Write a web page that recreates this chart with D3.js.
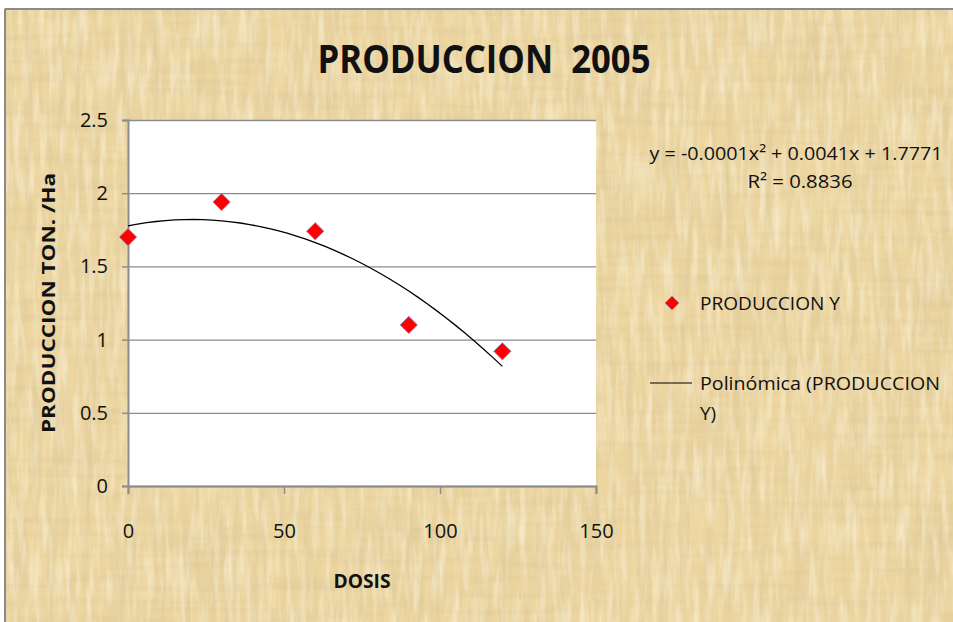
<!DOCTYPE html>
<html>
<head>
<meta charset="utf-8">
<script src="https://cdn.jsdelivr.net/npm/d3@7"></script>
<style>
  body { margin: 0; background: #fff; }
  text { font-family: "Open Sans", "DejaVu Sans", sans-serif; fill: #111; }
</style>
</head>
<body>
<div id="chart"></div>
<script>
// Values
var dosis = [0, 30, 60, 90, 120];
var produccion = [1.70, 1.94, 1.74, 1.10, 0.92];
var xTicks = [0, 50, 100, 150];
var yTicks = [0, 0.5, 1, 1.5, 2, 2.5];
var titleText = "PRODUCCION\u00a0 2005";
var xTitle = "DOSIS";
var yTitle = "PRODUCCION TON. /Ha";
var equationText = "y = -0.0001x\u00b2 + 0.0041x + 1.7771";
var r2Text = "R\u00b2 = 0.8836";
var legendSeries = "PRODUCCION Y";
var legendTrend = ["Polin\u00f3mica (PRODUCCION", "Y)"];

var svgWidth = 953;
var svgHeight = 622;
var margin = { top: 120, right: 357, bottom: 136, left: 128 };
var width = svgWidth - margin.left - margin.right;   // 468
var height = svgHeight - margin.top - margin.bottom; // 366

var svg = d3.select("#chart")
  .append("svg")
  .attr("width", svgWidth)
  .attr("height", svgHeight);

// papyrus-like background: soft vertical + horizontal fibres
var defs = svg.append("defs");
function fibres(id, freq, seed, rgb, a, b) {
  var f = defs.append("filter").attr("id", id)
    .attr("x", 0).attr("y", 0).attr("width", "100%").attr("height", "100%");
  f.append("feTurbulence").attr("type", "fractalNoise")
    .attr("baseFrequency", freq).attr("numOctaves", 3).attr("seed", seed).attr("result", "n");
  f.append("feColorMatrix").attr("in", "n").attr("type", "matrix")
    .attr("values", `0 0 0 0 ${rgb[0]}  0 0 0 0 ${rgb[1]}  0 0 0 0 ${rgb[2]}  ${a} 0 0 0 ${b}`);
}
fibres("fibV", "0.12 0.008", 4, [0.72, 0.58, 0.32], 1.4, -0.55);
fibres("fibH", "0.008 0.12", 11, [0.72, 0.58, 0.32], 1.3, -0.55);
fibres("fibL", "0.15 0.02", 21, [0.98, 0.92, 0.76], 1.3, -0.55);

var bgX = 4, bgY = 8;
svg.append("rect").attr("x", bgX).attr("y", bgY).attr("width", svgWidth - bgX).attr("height", svgHeight - bgY)
  .attr("fill", "#edd6a0");
["fibV", "fibH", "fibL"].forEach(function(id) {
  svg.append("rect").attr("x", bgX).attr("y", bgY).attr("width", svgWidth - bgX).attr("height", svgHeight - bgY)
    .attr("fill", "#000").attr("filter", `url(#${id})`);
});
// outer frame (top and left edges)
svg.append("line").attr("x1", 5).attr("x2", svgWidth).attr("y1", 9).attr("y2", 9)
  .attr("stroke", "#8a8a8a").attr("stroke-width", 2);
svg.append("line").attr("x1", 5).attr("x2", 5).attr("y1", 9).attr("y2", svgHeight)
  .attr("stroke", "#8a8a8a").attr("stroke-width", 2);

var chartGroup = svg.append("g")
  .attr("transform", `translate(${margin.left}, ${margin.top})`);

var xLinearScale = d3.scaleLinear().domain([0, 150]).range([0, width]);
var yLinearScale = d3.scaleLinear().domain([0, 2.5]).range([height, 0]);

// plot area
chartGroup.append("rect").attr("width", width).attr("height", height).attr("fill", "#fff");

// gridlines
var grid = chartGroup.append("g")
  .call(d3.axisLeft(yLinearScale).tickValues(yTicks).tickSize(-width).tickFormat(""));
grid.select(".domain").remove();
grid.selectAll("line").attr("stroke", "#8c8c8c").attr("stroke-width", 1.3);

// axes
var bottomAxis = d3.axisBottom(xLinearScale).tickValues(xTicks).tickSize(8).tickPadding(30)
  .tickFormat(d3.format(""));
var leftAxis = d3.axisLeft(yLinearScale).tickValues(yTicks).tickSize(6).tickPadding(14)
  .tickFormat(d3.format(""));

var xg = chartGroup.append("g").attr("transform", `translate(0, ${height})`).call(bottomAxis);
var yg = chartGroup.append("g").call(leftAxis);
[xg, yg].forEach(function(g) {
  g.select(".domain").attr("stroke", "#8c8c8c").attr("stroke-width", 2);
  g.selectAll(".tick line").attr("stroke", "#8c8c8c").attr("stroke-width", 1.5);
  g.selectAll(".tick text").attr("font-size", "20px").attr("fill", "#1a1a1a")
    .style("font-family", "'Open Sans', sans-serif");
});

// polynomial (2nd order) least squares trendline from the data
function quadFit(xs, ys) {
  var s = [0, 0, 0, 0, 0], t = [0, 0, 0];
  xs.forEach(function(x, i) {
    for (var k = 0; k < 5; k++) s[k] += Math.pow(x, k);
    for (var k2 = 0; k2 < 3; k2++) t[k2] += Math.pow(x, k2) * ys[i];
  });
  var A = [[s[0], s[1], s[2], t[0]], [s[1], s[2], s[3], t[1]], [s[2], s[3], s[4], t[2]]];
  for (var i = 0; i < 3; i++) {
    for (var j = i + 1; j < 3; j++) {
      var r = A[j][i] / A[i][i];
      for (var c = i; c < 4; c++) A[j][c] -= r * A[i][c];
    }
  }
  var b = [0, 0, 0];
  for (var i2 = 2; i2 >= 0; i2--) {
    var v = A[i2][3];
    for (var c2 = i2 + 1; c2 < 3; c2++) v -= A[i2][c2] * b[c2];
    b[i2] = v / A[i2][i2];
  }
  return function(x) { return b[0] + b[1] * x + b[2] * x * x; };
}
var trend = quadFit(dosis, produccion);
var trendX = d3.range(d3.min(dosis), d3.max(dosis) + 0.001, 3);

chartGroup.append("path")
  .datum(trendX)
  .attr("fill", "none")
  .attr("stroke", "#000")
  .attr("stroke-width", 1.3)
  .attr("d", d3.line().x(d => xLinearScale(d)).y(d => yLinearScale(trend(d))));

// markers
var diamond = d3.symbol().type(d3.symbolSquare).size(150);
chartGroup.selectAll(".dot")
  .data(dosis)
  .enter()
  .append("path")
  .attr("class", "dot")
  .attr("d", diamond)
  .attr("transform", (d, i) => `translate(${xLinearScale(d)}, ${yLinearScale(produccion[i])}) rotate(45)`)
  .attr("fill", "#ff0000")
  .attr("stroke", "#a08ab8")
  .attr("stroke-width", 0.8);

// titles
svg.append("text")
  .attr("x", 484).attr("y", 73)
  .attr("text-anchor", "middle")
  .attr("font-size", "39px").attr("font-weight", "bold")
  .attr("textLength", 333).attr("lengthAdjust", "spacingAndGlyphs")
  .text(titleText);

svg.append("text")
  .attr("transform", "translate(55, 303) rotate(-90)")
  .attr("text-anchor", "middle")
  .attr("font-size", "18px").attr("font-weight", "bold")
  .attr("textLength", 260).attr("lengthAdjust", "spacingAndGlyphs")
  .text(yTitle);

svg.append("text")
  .attr("x", margin.left + width / 2).attr("y", 588)
  .attr("text-anchor", "middle")
  .attr("font-size", "19px").attr("font-weight", "bold")
  .attr("textLength", 57).attr("lengthAdjust", "spacingAndGlyphs")
  .text(xTitle);

// trendline equation
svg.append("text")
  .attr("x", 796).attr("y", 160).attr("text-anchor", "middle")
  .attr("font-size", "19px")
  .attr("textLength", 293).attr("lengthAdjust", "spacingAndGlyphs")
  .text(equationText);
svg.append("text")
  .attr("x", 800).attr("y", 188).attr("text-anchor", "middle")
  .attr("font-size", "19px")
  .attr("textLength", 105).attr("lengthAdjust", "spacingAndGlyphs")
  .text(r2Text);

// legend
var legend = svg.append("g");
legend.append("path")
  .attr("d", d3.symbol().type(d3.symbolSquare).size(100))
  .attr("transform", "translate(672, 303) rotate(45)")
  .attr("fill", "#ff0000").attr("stroke", "#a08ab8").attr("stroke-width", 0.8);
legend.append("text").attr("x", 700).attr("y", 310)
  .attr("font-size", "19px")
  .attr("textLength", 140).attr("lengthAdjust", "spacingAndGlyphs")
  .text(legendSeries);
legend.append("line").attr("x1", 650).attr("x2", 692).attr("y1", 383).attr("y2", 383)
  .attr("stroke", "#000").attr("stroke-width", 1.2);
legend.append("text").attr("x", 700).attr("y", 390)
  .attr("font-size", "19px")
  .attr("textLength", 240).attr("lengthAdjust", "spacingAndGlyphs")
  .text(legendTrend[0]);
legend.append("text").attr("x", 700).attr("y", 420)
  .attr("font-size", "19px")
  .text(legendTrend[1]);
</script>
</body>
</html>
